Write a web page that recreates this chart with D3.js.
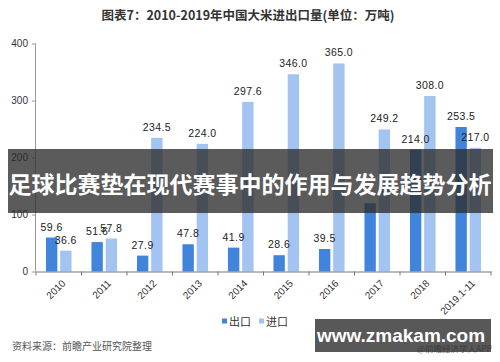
<!DOCTYPE html>
<html>
<head>
<meta charset="utf-8">
<script src="https://cdn.jsdelivr.net/npm/d3@7"></script>
<style>
  body { margin: 0; background: #fff; }
  svg { display: block; font-family: "Noto Sans CJK SC", "DejaVu Sans", sans-serif; }
</style>
</head>
<body>
<svg id="chart" width="500" height="362"></svg>
<script>
// data (万吨)
var years = ["2010", "2011", "2012", "2013", "2014", "2015", "2016", "2017", "2018", "2019.1-11"];
var exportVals = [59.6, 51.6, 27.9, 47.8, 41.9, 28.6, 39.5, 119.7, 214.0, 253.5];
var importVals = [36.6, 57.8, 234.5, 224.0, 297.6, 346.0, 365.0, 249.2, 308.0, 217.0];
var seriesNames = ["出口", "进口"];
var yTicks = [0, 100, 200, 300, 400];
var colors = ["#4184dc", "#a3c3f0"];

var svg = d3.select("#chart");

svg.append("text")
    .attr("x", 248).attr("y", 20)
    .attr("text-anchor", "middle")
    .style("font-size", "12.5px").style("font-weight", "bold").style("fill", "#333")
    .text("图表7：2010-2019年中国大米进出口量(单位：万吨)");

var x = d3.scaleBand().domain(years).range([36, 491]);
var x1 = d3.scaleBand().domain(seriesNames).range([0, x.bandwidth()])
    .paddingInner(0.2).paddingOuter(0.7);
var y = d3.scaleLinear().domain([0, 400]).range([271.5, 43.5]);

// y axis
var yAxis = svg.append("g")
    .attr("transform", "translate(36,0)")
    .call(d3.axisLeft(y).tickValues(yTicks).tickSize(4).tickPadding(4));
yAxis.select(".domain").attr("stroke", "#999").attr("d", "M-0.5," + y(400) + "V" + y(0));
yAxis.selectAll(".tick line").attr("stroke", "#999");
yAxis.selectAll("text").style("font-size", "10px").style("fill", "#333")
    .style("font-family", "Liberation Sans, Arial, sans-serif");

// bars
var rows = years.map(function(yr, i) {
    return { year: yr, vals: [exportVals[i], importVals[i]] };
});
var groups = svg.append("g").selectAll("g").data(rows).enter().append("g")
    .attr("transform", function(d) { return "translate(" + x(d.year) + ",0)"; });

groups.selectAll("rect")
    .data(function(d) { return d.vals.map(function(v, j) { return { s: seriesNames[j], v: v, j: j }; }); })
    .enter().append("rect")
    .attr("x", function(d) { return x1(d.s); })
    .attr("width", x1.bandwidth())
    .attr("y", function(d) { return y(d.v); })
    .attr("height", function(d) { return y(0) - y(d.v); })
    .style("fill", function(d) { return colors[d.j]; });

// value labels; the one that sits under the banner text is not visible in the original
groups.selectAll("text.lbl")
    .data(function(d) {
        return d.vals.map(function(v, j) { return { s: seriesNames[j], v: v }; })
            .filter(function(e) { var ty = y(e.v) - 7; return ty < 145 || ty > 218; });
    })
    .enter().append("text")
    .attr("class", "lbl")
    .attr("x", function(d) { return x1(d.s) + x1.bandwidth() / 2; })
    .attr("y", function(d) { return y(d.v) - 7; })
    .attr("text-anchor", "middle")
    .style("font-family", "Liberation Sans, Arial, sans-serif")
    .style("letter-spacing", "0.4px")
    .style("font-size", "10.5px").style("fill", "#222")
    .text(function(d) { return d.v.toFixed(1); });

// x axis
var xAxis = svg.append("g")
    .attr("transform", "translate(0," + y(0) + ")")
    .call(d3.axisBottom(x).tickSize(0).tickFormat(""));
xAxis.select(".domain").attr("stroke", "#777");
xAxis.selectAll(".tick").remove();
svg.append("g").selectAll("line").data(d3.range(years.length + 1)).enter().append("line")
    .attr("x1", function(i) { return 36 + i * x.step(); })
    .attr("x2", function(i) { return 36 + i * x.step(); })
    .attr("y1", y(0)).attr("y2", y(0) + 4)
    .attr("stroke", "#777");

svg.append("g").selectAll("text").data(years).enter().append("text")
    .attr("transform", function(d) {
        return "translate(" + (x(d) + x.bandwidth() / 2 + 5) + "," + (y(0) + 10) + ") rotate(-45)";
    })
    .attr("text-anchor", "end")
    .attr("dy", "0.35em")
    .style("font-family", "Liberation Sans, Arial, sans-serif")
    .style("font-size", "10px").style("fill", "#333")
    .text(function(d) { return d; });

// legend
var legend = svg.append("g").attr("transform", "translate(222,322)");
seriesNames.forEach(function(name, i) {
    var g = legend.append("g").attr("transform", "translate(" + (i * 37) + ",0)");
    g.append("rect").attr("x", 0).attr("y", -3.5).attr("width", 5).attr("height", 5).style("fill", colors[i]);
    g.append("text").attr("x", 7).attr("y", 4)
        .style("font-size", "11px").style("fill", "#333").text(name);
});

svg.append("text")
    .attr("x", 12).attr("y", 350)
    .style("font-size", "10px").style("fill", "#555")
    .text("资料来源：前瞻产业研究院整理");

// overlay banner
svg.append("rect")
    .attr("x", 8).attr("y", 149).attr("width", 485).attr("height", 64)
    .style("fill", "rgba(45,45,45,0.78)");
svg.append("text")
    .attr("x", 250).attr("y", 193)
    .attr("text-anchor", "middle")
    .style("font-size", "23px").style("font-weight", "bold").style("fill", "#fff")
    .text("足球比赛垫在现代赛事中的作用与发展趋势分析");

// site stamp
svg.append("rect")
    .attr("x", 315).attr("y", 319).attr("width", 176).attr("height", 33)
    .style("fill", "rgba(70,70,70,0.9)");
svg.append("text")
    .attr("x", 401).attr("y", 342)
    .attr("text-anchor", "middle")
    .style("font-family", "Liberation Sans, Arial, sans-serif")
    .style("font-size", "19px").style("font-weight", "bold").style("fill", "#fff")
    .text("www.zmakam.com");
svg.append("text")
    .attr("x", 492).attr("y", 352)
    .attr("text-anchor", "end")
    .style("font-size", "8.5px").style("fill", "#333").style("opacity", 0.7)
    .text("@前瞻经济学人APP");
</script>
</body>
</html>
